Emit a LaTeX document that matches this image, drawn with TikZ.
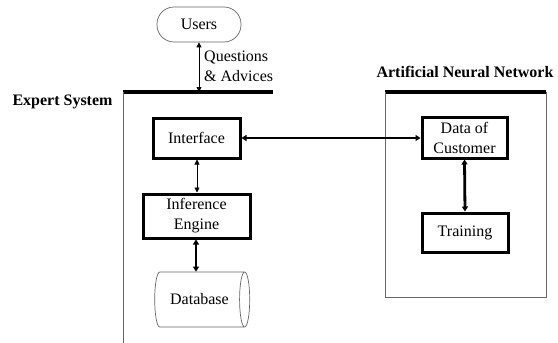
\documentclass[tikz,border=0pt]{standalone}
\usepackage{fontspec}
\setmainfont{Liberation Serif}
\usetikzlibrary{shapes.geometric,arrows.meta}
\begin{document}
\begin{tikzpicture}[x=1pt,y=-1pt,
  every node/.style={font=\fontsize{16}{20}\selectfont},
  thinline/.style={draw=black!60,line width=0.8pt},
  boldline/.style={line width=3.2pt},
  procbox/.style={draw,line width=3pt,rectangle,inner sep=0pt,align=center},
  thickarrow/.style={line width=2.8pt,{Triangle[length=5pt,width=6pt]}-{Triangle[length=5pt,width=6pt]}},
  thinarrow/.style={line width=0.8pt,{Triangle[length=5pt,width=5pt]}-{Triangle[length=5pt,width=5pt]}},
  title/.style={font=\fontsize{16}{20}\selectfont\bfseries}
]
\useasboundingbox (0,0) rectangle (558,343);

% Users
\node[draw=black!60,line width=0.7pt,rounded corners=17pt,minimum width=84pt,minimum height=35pt,inner sep=0pt] (users) at (199,24.5) {Users};
\coordinate (esTopArrow) at (199,92);
\draw[thinarrow] (users.south) -- (esTopArrow);
\node[anchor=west,align=left,inner sep=0pt] (qa) at (204,66) {Questions\\\& Advices};

% Expert System frame
\coordinate (esA) at (123,92);
\coordinate (esB) at (273,92);
\coordinate (esC) at (123,343);
\draw[boldline] (esA) -- (esB);
\draw[thinline] (esA) -- (esC);
\node[title] (estitle) at (62.5,102) {Expert System};

% Expert system components
\node[procbox,minimum width=87pt,minimum height=40pt] (interface) at (196.5,138) {Interface};
\node[procbox,minimum width=107pt,minimum height=44pt] (engine) at (196.5,216) {Inference\\Engine};
\node[cylinder,draw=black!60,line width=0.7pt,minimum height=95pt,minimum width=55pt,aspect=0.9,inner sep=0pt] (db) at (199.5,299.5) {Database};

\draw[thinarrow] (interface.south -| 197,0) -- (engine.north -| 197,0);
\draw[thickarrow] (engine.south -| 196,0) -- (db.north -| 196,0);

% ANN frame
\node[title] (anntitle) at (465,72) {Artificial Neural Network};
\coordinate (annA) at (385,92);
\coordinate (annB) at (546,92);
\coordinate (annC) at (385,297);
\coordinate (annD) at (546,297);
\draw[boldline] (annA) -- (annB);
\draw[thinline] (annA) -- (annC) -- (annD) -- (annB);

\node[procbox,minimum width=85pt,minimum height=41pt] (doc) at (464.5,137.5) {Data of\\Customer};
\node[procbox,minimum width=86pt,minimum height=39pt] (training) at (465,232.5) {Training};

\draw[thickarrow] (doc.south) -- (training.north);
\draw[thickarrow] (interface.east) -- (doc.west |- interface.east);
\end{tikzpicture}
\end{document}
